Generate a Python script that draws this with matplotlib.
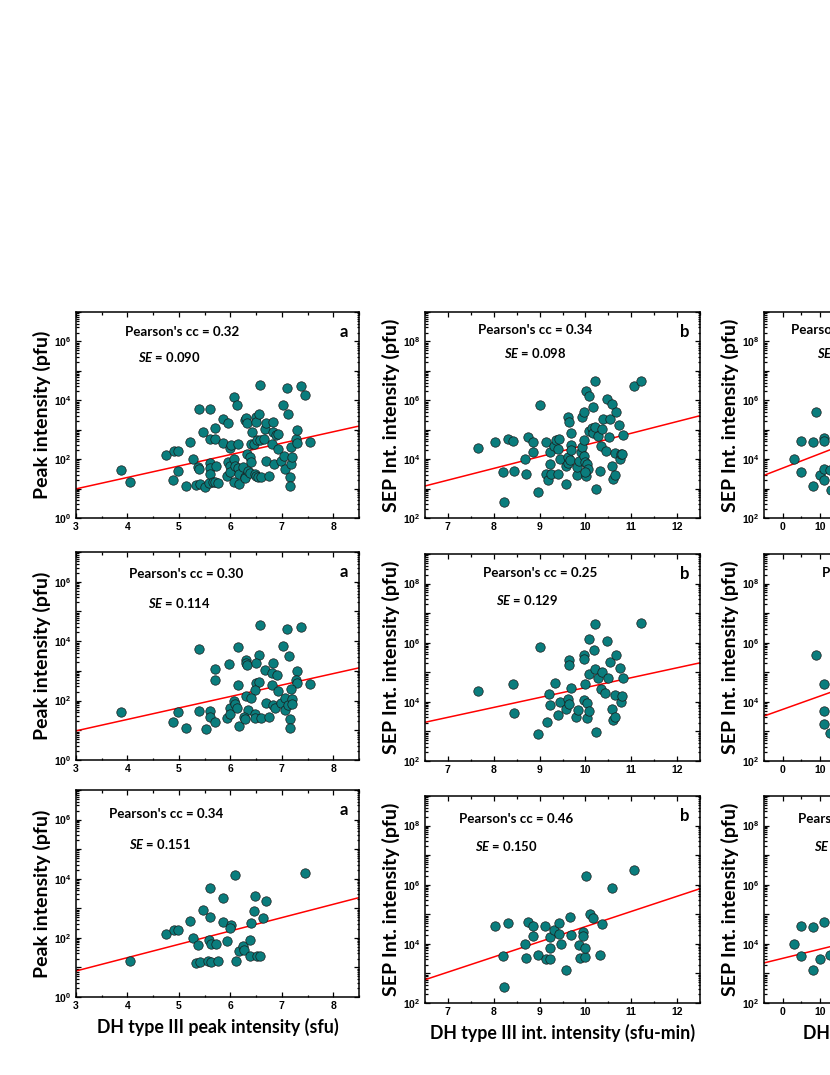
import numpy as np
import matplotlib
matplotlib.use("Agg")
import matplotlib.pyplot as plt
from matplotlib.ticker import LogLocator, FuncFormatter, MultipleLocator, NullFormatter

plt.rcParams['font.family'] = ['Lato', 'DejaVu Sans']
plt.rcParams['mathtext.fontset'] = 'custom'
plt.rcParams['mathtext.bf'] = 'Liberation Sans:bold'
plt.rcParams['mathtext.it'] = 'Lato:bold:italic'
plt.rcParams['mathtext.rm'] = 'Lato:bold'

# ---- data (x, log10 of y) ----
# row 1, panel a : all events
a1_x = [3.87, 4.05, 4.75, 4.9, 4.99, 4.89, 4.99, 5.13, 5.22, 5.27, 5.33, 5.39, 5.37, 5.4, 5.41,
        5.47, 5.51, 5.58, 5.61, 5.6, 5.6, 5.61, 5.61, 5.67, 5.7, 5.71, 5.73, 5.71, 5.75, 5.85,
        5.85, 5.96, 5.95, 5.94, 5.99, 6.01, 6.0, 6.0, 6.07, 6.07, 6.09, 6.07, 6.13, 6.14, 6.15,
        6.17, 6.17, 6.24, 6.28, 6.31, 6.32, 6.33, 6.29, 6.28, 6.35, 6.38, 6.39, 6.41, 6.41, 6.43,
        6.45, 6.47, 6.49, 6.49, 6.49, 6.51, 6.53, 6.55, 6.57, 6.58, 6.6, 6.65, 6.67, 6.69, 6.69,
        6.75, 6.8, 6.82, 6.82, 6.85, 6.89, 6.92, 6.92, 6.99, 7.02, 7.05, 7.07, 7.1, 7.12, 7.15,
        7.15, 7.17, 7.18, 7.2, 7.27, 7.3, 7.3, 7.38, 7.45, 7.55]
a1_logy = [1.62, 1.22, 2.14, 2.27, 2.27, 1.28, 1.61, 1.08, 2.57, 1.99, 1.13, 3.72, 1.74, 1.65, 1.15,
           2.93, 1.06, 1.19, 3.69, 2.68, 1.875, 1.69, 1.48, 1.23, 3.06, 2.70, 1.78, 1.24, 1.19, 2.55,
           3.35, 3.24, 1.89, 1.42, 2.375, 2.47, 1.77, 1.56, 1.99, 4.10, 1.76, 1.22, 3.83, 2.53, 1.70,
           1.17, 1.51, 1.74, 3.33, 3.39, 3.22, 2.19, 1.40, 1.35, 1.59, 1.53, 2.08, 1.91, 2.51, 2.91,
           2.53, 1.51, 1.44, 3.44, 3.26, 2.65, 1.40, 3.53, 2.65, 4.52, 1.41, 2.67, 3.03, 3.24, 1.93,
           1.42, 2.51, 2.92, 3.27, 1.85, 2.82, 2.84, 2.33, 1.93, 3.84, 2.10, 1.67, 4.41, 3.52, 1.40,
           1.08, 1.85, 2.40, 2.06, 2.70, 2.56, 2.99, 4.49, 4.19, 2.57]

# row 2, panel a
a2_x = [5.4, 6.14, 6.58, 7.1, 7.38, 7.03, 7.13, 6.55, 6.31, 6.31, 6.33, 5.97, 6.49, 5.7, 5.71,
        6.82, 6.67, 6.81, 6.91, 7.3, 6.14, 6.5, 6.55, 6.48, 6.8, 6.92, 7.27, 7.3, 7.18, 7.55,
        3.87, 4.88, 4.99, 5.13, 5.39, 5.52, 5.61, 5.61, 5.7, 5.94, 5.99, 6.0, 6.07, 6.09, 6.12,
        6.17, 6.31, 6.35, 6.4, 6.27, 6.29, 6.47, 6.48, 6.6, 6.7, 6.75, 6.83, 6.87, 6.99, 7.06,
        7.07, 7.12, 7.15, 7.15, 7.19, 7.2]
a2_logy = [3.72, 3.81, 4.53, 4.42, 4.49, 3.84, 3.51, 3.53, 3.375, 3.28, 3.19, 3.24, 3.28, 3.06, 2.70,
           3.28, 3.02, 2.92, 2.85, 2.99, 2.52, 2.6, 2.64, 2.35, 2.52, 2.32, 2.69, 2.58, 2.375, 2.57,
           1.63, 1.29, 1.62, 1.07, 1.66, 1.05, 1.65, 1.46, 1.27, 1.40, 1.75, 1.56, 2.0, 1.89, 1.75,
           1.15, 2.17, 1.69, 2.09, 1.45, 1.38, 1.56, 1.40, 1.41, 1.92, 1.45, 1.85, 1.75, 1.92, 2.10,
           1.67, 1.86, 1.38, 1.07, 2.06, 1.88]

# row 3, panel a
a3_x = [4.05, 4.75, 4.91, 4.99, 5.22, 5.27, 5.33, 5.37, 5.41, 5.47, 5.57, 5.61, 5.61, 5.58, 5.62,
        5.63, 5.72, 5.75, 5.85, 5.85, 5.93, 6.01, 5.99, 6.09, 6.1, 6.17, 6.24, 6.27, 6.38, 6.39,
        6.41, 6.45, 6.48, 6.52, 6.57, 6.64, 6.69, 7.45]
a3_logy = [1.23, 2.14, 2.28, 2.28, 2.58, 2.0, 1.15, 1.76, 1.17, 2.94, 1.23, 3.70, 2.69, 1.92, 1.78,
           1.18, 1.80, 1.22, 3.34, 2.55, 1.89, 2.45, 2.34, 4.11, 1.22, 1.55, 1.72, 1.58, 1.39, 1.92,
           2.51, 2.91, 3.41, 1.40, 1.40, 2.68, 3.26, 4.19]

# row 1, panel b
b1_x = [7.66, 8.03, 8.2, 8.23, 8.31, 8.43, 8.44, 8.68, 8.71, 8.74, 8.86, 8.86, 8.96, 9.0, 9.13,
        9.14, 9.19, 9.22, 9.23, 9.25, 9.32, 9.36, 9.4, 9.41, 9.43, 9.45, 9.57, 9.58, 9.62, 9.63,
        9.64, 9.63, 9.67, 9.68, 9.69, 9.69, 9.81, 9.81, 9.86, 9.91, 9.92, 9.93, 9.96, 9.96, 9.97,
        9.99, 10.01, 10.03, 10.05, 9.99, 10.01, 10.07, 10.07, 10.14, 10.16, 10.17, 10.2, 10.2, 10.22, 10.28,
        10.32, 10.34, 10.36, 10.38, 10.44, 10.46, 10.52, 10.54, 10.58, 10.59, 10.61, 10.65, 10.66, 10.64, 10.74,
        10.75, 10.77, 10.8, 10.81, 11.06, 11.22]
b1_logy = [4.375, 4.58, 3.58, 2.53, 4.69, 4.625, 3.59, 4.01, 3.5, 4.74, 4.59, 4.23, 2.89, 5.84, 4.57,
           3.5, 3.28, 4.25, 3.84, 3.5, 4.45, 4.65, 3.51, 4.33, 4.68, 3.99, 3.76, 3.14, 3.875, 5.42,
           5.26, 4.06, 3.98, 4.90, 4.47, 4.32, 3.45, 3.72, 3.94, 4.25, 4.42, 5.44, 5.59, 4.10, 4.65,
           3.91, 3.42, 3.85, 3.65, 3.57, 6.33, 6.14, 4.95, 5.05, 4.875, 5.76, 5.1, 6.64, 2.97, 4.78,
           3.6, 4.45, 5.01, 5.36, 4.28, 6.05, 4.76, 5.36, 5.89, 3.76, 3.32, 3.45, 5.60, 4.22, 5.15,
           3.99, 4.17, 4.18, 4.81, 6.48, 6.65]

# row 2, panel b
b2_x = [7.66, 8.43, 8.44, 8.96, 9.01, 9.17, 9.2, 9.23, 9.34, 9.4, 9.45, 9.57, 9.63, 9.65, 9.64,
        9.64, 9.69, 9.8, 9.83, 9.96, 9.96, 9.97, 9.99, 10.03, 10.04, 10.07, 10.07, 10.08, 10.18, 10.2,
        10.2, 10.22, 10.28, 10.35, 10.36, 10.43, 10.46, 10.5, 10.53, 10.58, 10.6, 10.64, 10.66, 10.64, 10.75,
        10.77, 10.79, 10.81, 11.22]
b2_logy = [4.38, 4.62, 3.61, 2.92, 5.84, 3.31, 4.27, 3.88, 4.64, 3.54, 4.0, 3.76, 4.08, 3.94, 5.41,
           5.26, 4.48, 3.48, 3.71, 5.59, 5.45, 4.06, 4.60, 3.44, 3.97, 3.68, 4.95, 6.12, 5.77, 5.12,
           6.63, 2.99, 4.80, 4.45, 5.01, 4.29, 6.05, 4.79, 5.34, 3.77, 3.37, 3.48, 5.60, 4.23, 5.15,
           4.01, 4.19, 4.82, 6.65]

# row 3, panel b
b3_x = [8.03, 8.21, 8.23, 8.3, 8.68, 8.71, 8.74, 8.86, 8.86, 8.97, 9.12, 9.14, 9.23, 9.23, 9.22,
        9.32, 9.42, 9.43, 9.46, 9.58, 9.67, 9.68, 9.86, 9.88, 9.94, 9.94, 9.99, 10.0, 10.01, 10.1,
        10.17, 10.32, 10.36, 10.59, 11.06]
b3_logy = [4.59, 3.58, 2.55, 4.70, 4.01, 3.51, 4.75, 4.60, 4.26, 3.64, 4.59, 3.50, 3.50, 4.22, 3.85,
           4.48, 4.32, 4.69, 3.98, 3.13, 4.91, 4.31, 3.95, 3.52, 4.40, 4.26, 3.56, 3.86, 6.31, 5.0,
           4.87, 3.64, 4.68, 5.90, 6.49]

# panels c (only the part inside the picture)
c1_x = [3.15, 5.0, 5.0, 8.0, 8.0, 9.0, 10.0, 11.1, 11.1, 11.1, 11.1, 12.6, 12.9]
c1_logy = [4.0, 3.58, 4.60, 3.10, 4.58, 5.59, 3.47, 4.71, 4.60, 3.67, 3.28, 3.63, 2.96]
c2_x = [9.0, 11.1, 11.1, 11.1, 12.6]
c2_logy = [5.59, 4.61, 3.68, 3.26, 2.95]
c3_x = [3.15, 5.0, 5.0, 8.0, 8.0, 10.1, 11.1, 12.8]
c3_logy = [4.0, 4.59, 3.58, 4.57, 3.13, 3.50, 4.74, 3.64]

# linear fits: log10(y) = k*x + b
fits = {'a1': (0.388, -0.174), 'a2': (0.3855, -0.176), 'a3': (0.451, -0.473),
        'b1': (0.398, 0.501), 'b2': (0.335, 1.132), 'b3': (0.513, -0.547),
        'c1': (0.049, 3.695), 'c2': (0.045, 3.745), 'c3': (0.031, 3.51)}
pearson = {'a1': '0.32', 'a2': '0.30', 'a3': '0.34', 'b1': '0.34', 'b2': '0.25', 'b3': '0.46',
           'c1': '0.31', 'c2': '0.28', 'c3': '0.35'}
se = {'a1': '0.090', 'a2': '0.114', 'a3': '0.151', 'b1': '0.098', 'b2': '0.129', 'b3': '0.150',
      'c1': '0.096', 'c2': '0.125', 'c3': '0.140'}

W, H = 830, 1075
fig = plt.figure(figsize=(W / 100, H / 100), dpi=100)


def box(l, t, w, h):
    return [l / W, 1 - (t + h) / H, w / W, h / H]


def ylab(v, pos):
    e = int(round(np.log10(v)))
    if e % 2:
        return ''
    return r'$\mathbf{10^{%d}}$' % e


panels = [
    # key, x, logy, box(px), xlim, ylim, x major, ylabel, xlabel, letter, text pos
    ('a1', a1_x, a1_logy, (76, 312, 283, 206), (3, 8.5), (1e0, 1e7), 1, 'Peak intensity (pfu)', None, 'a', 0.375, 0.905, 0.33, 0.78),
    ('b1', b1_x, b1_logy, (425, 312, 275, 206), (6.5, 12.5), (1e2, 1e9), 1, 'SEP Int. intensity (pfu)', None, 'b', 0.40, 0.915, 0.40, 0.80),
    ('c1', c1_x, c1_logy, (764, 312, 280, 206), (-5, 70), (1e2, 1e9), 10, 'SEP Int. intensity (pfu)', None, 'c', 0.30, 0.915, 0.30, 0.80),
    ('a2', a2_x, a2_logy, (76, 552, 283, 208), (3, 8.5), (1e0, 1e7), 1, 'Peak intensity (pfu)', None, 'a', 0.39, 0.895, 0.365, 0.755),
    ('b2', b2_x, b2_logy, (425, 554, 275, 207), (6.5, 12.5), (1e2, 1e9), 1, 'SEP Int. intensity (pfu)', None, 'b', 0.42, 0.91, 0.37, 0.78),
    ('c2', c2_x, c2_logy, (764, 554, 280, 207), (-5, 70), (1e2, 1e9), 10, 'SEP Int. intensity (pfu)', None, 'c', 0.41, 0.91, 0.40, 0.78),
    ('a3', a3_x, a3_logy, (76, 790, 283, 207), (3, 8.5), (1e0, 1e7), 1, 'Peak intensity (pfu)', 'DH type III peak intensity (sfu)', 'a', 0.32, 0.885, 0.297, 0.74),
    ('b3', b3_x, b3_logy, (425, 796, 275, 207), (6.5, 12.5), (1e2, 1e9), 1, 'SEP Int. intensity (pfu)', 'DH type III int. intensity (sfu-min)', 'b', 0.33, 0.89, 0.295, 0.76),
    ('c3', c3_x, c3_logy, (764, 796, 280, 207), (-5, 70), (1e2, 1e9), 10, 'SEP Int. intensity (pfu)', 'DH type III duration (min)', 'c', 0.325, 0.89, 0.29, 0.76),
]

for key, xs, ly, bx, xlim, ylim, xmaj, ylabel, xlabel, letter, px, py, sx, sy in panels:
    ax = fig.add_axes(box(*bx))
    ax.set_yscale('log')
    ax.set_xlim(*xlim)
    ax.set_ylim(*ylim)

    k, b = fits[key]
    lx = np.array(xlim, dtype=float)
    ax.plot(lx, 10 ** (k * lx + b), color='red', lw=1.1, zorder=2)
    ax.scatter(xs, 10 ** np.array(ly), s=46, color='#0a7d7d', edgecolor='#1a1a1a',
               linewidth=0.5, zorder=3)

    ax.xaxis.set_major_locator(MultipleLocator(xmaj))
    ax.xaxis.set_minor_locator(MultipleLocator(xmaj / 2))
    ax.yaxis.set_major_locator(LogLocator(base=10, subs=(1.0,), numticks=20))
    ax.yaxis.set_minor_locator(LogLocator(base=10, subs=np.arange(2, 10), numticks=20))
    ax.yaxis.set_major_formatter(FuncFormatter(ylab))
    ax.yaxis.set_minor_formatter(NullFormatter())

    ax.tick_params(which='both', direction='in', top=True, right=True, width=0.9,
                   labelsize=7.5, pad=3)
    ax.tick_params(which='major', length=3.5)
    ax.tick_params(which='minor', length=1.8)
    for lab in ax.get_xticklabels():
        lab.set_fontfamily('Liberation Sans')
        lab.set_fontweight('bold')
    for sp in ax.spines.values():
        sp.set_linewidth(1.1)

    ax.set_ylabel(ylabel, fontsize=14, fontweight='bold', labelpad=2)
    if xlabel:
        ax.set_xlabel(xlabel, fontsize=12.8, fontweight='bold', labelpad=5)

    ax.text(px, py, "Pearson's cc = " + pearson[key], transform=ax.transAxes,
            ha='center', va='center', fontsize=9.6, fontweight='bold')
    ax.text(sx, sy, r'$\mathit{SE}$ = ' + se[key], transform=ax.transAxes,
            ha='center', va='center', fontsize=9.4, fontweight='bold')
    ax.text(0.945, 0.905, letter, transform=ax.transAxes, ha='center', va='center',
            fontsize=12, fontweight='bold')

fig.savefig('out.png', dpi=100)
